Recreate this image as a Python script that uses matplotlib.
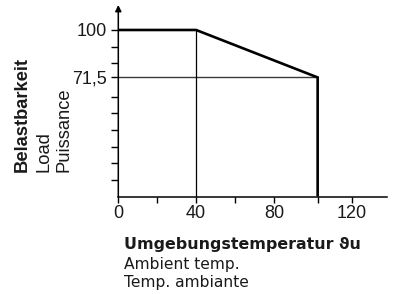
import matplotlib
matplotlib.use("Agg")
import matplotlib.pyplot as plt

# Data
curve_x = [0, 40, 102.5, 102.5]
curve_y = [100, 100, 71.5, 0]
knee_x = 40
derate_y = 71.5
y_major = [100, 71.5]
y_major_labels = ["100", "71,5"]
y_minor = [10, 20, 30, 40, 50, 60, 80, 90]
x_major = [0, 40, 80, 120]
x_major_labels = ["0", "40", "80", "120"]
x_minor = [20, 60, 102.5]

plt.rcParams['font.family'] = ['Liberation Sans', 'DejaVu Sans']
txt = '#1a1a1a'
hfont = ['DejaVu Sans']

fig = plt.figure(figsize=(3.96, 2.94), dpi=100)
W, H = 396, 294
ax = fig.add_axes([118.3 / W, 1 - 196.5 / H, (386.7 - 118.3) / W, (196.5 - 5) / H])
ax.set_xlim(0, 138)
ax.set_ylim(0, 115)

# thin helper lines
ax.plot([0, curve_x[2]], [derate_y, derate_y], color='#3a3a3a', lw=1.0, solid_capstyle='butt')
ax.plot([knee_x, knee_x], [0, 100], color='black', lw=0.9, solid_capstyle='butt')
# main curve
ax.plot(curve_x, curve_y, color='black', lw=1.9, solid_joinstyle='miter', solid_capstyle='butt')

for s in ['top', 'right', 'left']:
    ax.spines[s].set_visible(False)
ax.spines['bottom'].set_linewidth(1.1)

# y axis with arrow
ax.annotate('', xy=(0, 1.0), xycoords='axes fraction', xytext=(0, 0), textcoords='axes fraction',
            arrowprops=dict(arrowstyle='-|>', lw=1.1, color='black', mutation_scale=9,
                            shrinkA=0, shrinkB=0))

ax.set_yticks(y_major)
ax.set_yticklabels(y_major_labels)
ax.set_yticks(y_minor, minor=True)
ax.set_xticks(x_major)
ax.set_xticklabels(x_major_labels)
ax.set_xticks(x_minor, minor=True)
ax.tick_params(axis='both', which='both', direction='out', color='black', width=1.0, labelcolor=txt)
ax.tick_params(axis='y', which='both', length=5, pad=3, labelsize=13)
ax.tick_params(axis='x', which='both', length=4, pad=2, labelsize=13)

# x label block
fig.text(124.3 / W, 1 - 248.7 / H, 'Umgebungstemperatur ϑu', fontsize=11.4, fontweight='bold', color=txt,
         family=hfont, ha='left', va='baseline')
fig.text(124.3 / W, 1 - 268.7 / H, 'Ambient temp.', fontsize=11.2, color=txt, family=hfont,
         ha='left', va='baseline')
fig.text(124.3 / W, 1 - 287 / H, 'Temp. ambiante', fontsize=11.2, color=txt, family=hfont,
         ha='left', va='baseline')

# y label block (rotated)
fig.text(27 / W, 1 - 171.7 / H, 'Belastbarkeit', fontsize=13.2, fontweight='bold', color=txt,
         rotation=90, ha='left', va='baseline', rotation_mode='anchor')
fig.text(49 / W, 1 - 171.7 / H, 'Load', fontsize=13.2, color=txt,
         rotation=90, ha='left', va='baseline', rotation_mode='anchor')
fig.text(68 / W, 1 - 171.7 / H, 'Puissance', fontsize=13.2, color=txt,
         rotation=90, ha='left', va='baseline', rotation_mode='anchor')

fig.savefig('out.png', dpi=100)
